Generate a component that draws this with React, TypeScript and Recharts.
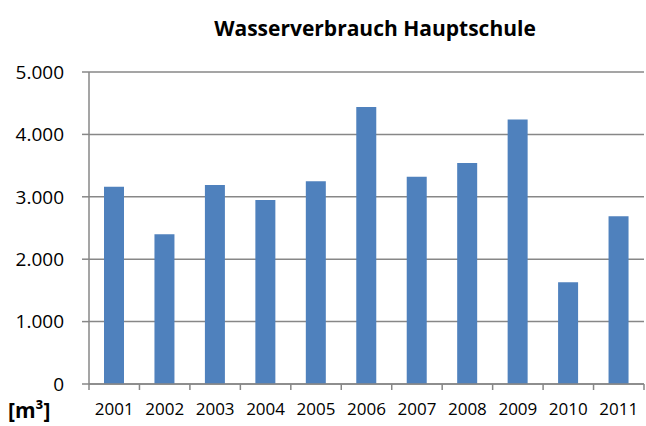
import React from "react";
import { Bar, BarChart, CartesianGrid, XAxis, YAxis } from "recharts";

const years = ["2001", "2002", "2003", "2004", "2005", "2006", "2007", "2008", "2009", "2010", "2011"];
const verbrauch = [3160, 2400, 3190, 2950, 3250, 4440, 3320, 3540, 4240, 1630, 2690];
const yTicks = [0, 1000, 2000, 3000, 4000, 5000];

const data = years.map((year, i) => ({ year, verbrauch: verbrauch[i] }));

const W = 646;
const H = 426;
const LEFT = 89;
const RIGHT = 2;
const FONT = "'Open Sans', sans-serif";
const GRID = "#878787";
const step = (W - LEFT - RIGHT) / years.length;

const fmt = (v: number) => (v === 0 ? "0" : v.toLocaleString("de-DE"));

const YearTick = (props: any) => {
  const { x, y, payload, index } = props;
  return (
    <g>
      <line x1={x - step / 2} x2={x - step / 2} y1={y - 8} y2={y - 2} stroke={GRID} strokeWidth={1.5} />
      {index === years.length - 1 && (
        <line x1={x + step / 2} x2={x + step / 2} y1={y - 8} y2={y - 2} stroke={GRID} strokeWidth={1.5} />
      )}
      <text x={x} y={y + 23} textAnchor="middle" fontFamily={FONT} fontSize={17} fill="#000">
        {payload.value}
      </text>
    </g>
  );
};

export default function App() {
  return (
    <div style={{ position: "absolute", left: 0, top: 0, width: W, height: H, background: "#fff" }}>
      <div
        style={{
          position: "absolute",
          left: 0,
          width: 750,
          top: 14,
          textAlign: "center",
          fontFamily: FONT,
          fontWeight: "bold",
          fontSize: 21,
        }}
      >
        Wasserverbrauch Hauptschule
      </div>
      <div
        style={{
          position: "absolute",
          left: 8,
          top: 396,
          fontFamily: FONT,
          fontWeight: "bold",
          fontSize: 21,
        }}
      >
        [m³]
      </div>
      <BarChart
        width={W}
        height={H}
        data={data}
        margin={{ top: 72, right: RIGHT, left: 0, bottom: 0 }}
        barSize={20}
      >
        <CartesianGrid vertical={false} stroke={GRID} strokeWidth={1.5} />
        <XAxis
          dataKey="year"
          height={42}
          axisLine={{ stroke: GRID, strokeWidth: 1.5 }}
          tickLine={false}
          tick={<YearTick />}
          interval={0}
        />
        <YAxis
          width={LEFT}
          domain={[0, 5000]}
          ticks={yTicks}
          tickFormatter={fmt}
          axisLine={{ stroke: GRID, strokeWidth: 1.5 }}
          tickLine={{ stroke: GRID, strokeWidth: 1.5 }}
          tickSize={7}
          tickMargin={18}
          tick={{ fontFamily: FONT, fontSize: 19, fill: "#000" }}
        />
        <Bar dataKey="verbrauch" fill="#4f81bd" isAnimationActive={false} />
      </BarChart>
    </div>
  );
}
